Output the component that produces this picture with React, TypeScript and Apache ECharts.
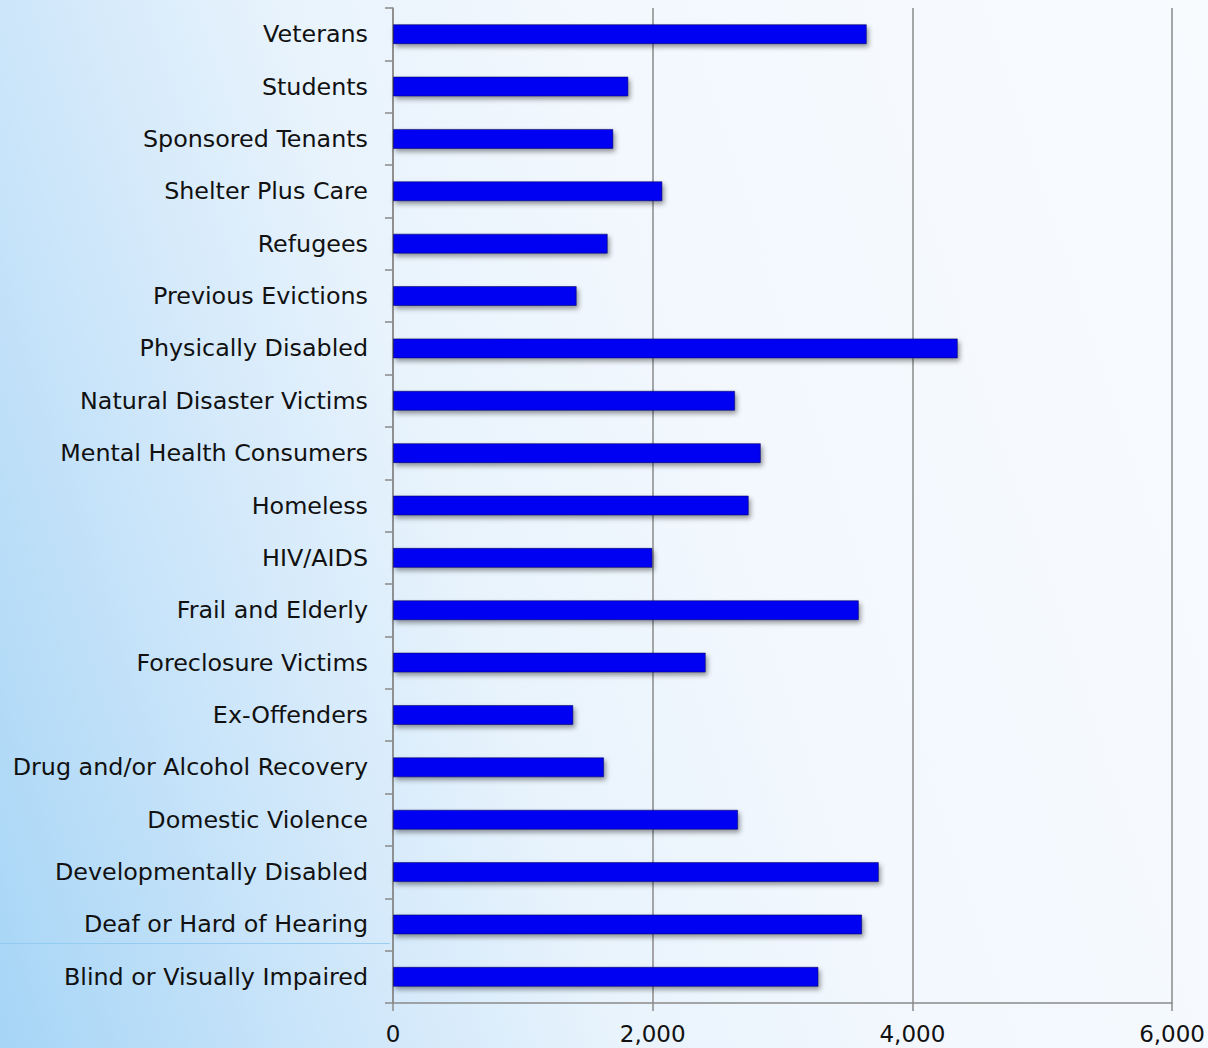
import React, { useEffect, useRef } from "react";
import * as echarts from "echarts";

const categories = [
  "Blind or Visually Impaired",
  "Deaf or Hard of Hearing",
  "Developmentally Disabled",
  "Domestic Violence",
  "Drug and/or Alcohol Recovery",
  "Ex-Offenders",
  "Foreclosure Victims",
  "Frail and Elderly",
  "HIV/AIDS",
  "Homeless",
  "Mental Health Consumers",
  "Natural Disaster Victims",
  "Physically Disabled",
  "Previous Evictions",
  "Refugees",
  "Shelter Plus Care",
  "Sponsored Tenants",
  "Students",
  "Veterans",
];

const values = [
  3277, 3613, 3742, 2658, 1626, 1389, 2409, 3588, 1998, 2740, 2833, 2635, 4350,
  1415, 1654, 2075, 1697, 1813, 3649,
];

const xTicks = [0, 2000, 4000, 6000];

export default function App() {
  const ref = useRef<HTMLDivElement>(null);

  useEffect(() => {
    document.body.style.margin = "0";
    if (!ref.current) return;
    const chart = echarts.init(ref.current, null, { renderer: "svg" });
    const font = "'DejaVu Sans', Verdana, sans-serif";
    chart.setOption({
      animation: false,
      grid: { left: 393, right: 35, top: 8, bottom: 45, containLabel: false },
      graphic: [
        {
          type: "line",
          shape: { x1: 0, y1: 943.5, x2: 390, y2: 943.5 },
          style: { stroke: "rgba(140,200,240,0.8)", lineWidth: 1 },
          silent: true,
        },
      ],
      xAxis: {
        type: "value",
        min: xTicks[0],
        max: xTicks[xTicks.length - 1],
        interval: 2000,
        axisLine: { show: true, lineStyle: { color: "#8a8a8a", width: 1.5 } },
        axisTick: { show: true, length: 8, lineStyle: { color: "#8a8a8a", width: 1.5 } },
        splitLine: { show: true, lineStyle: { color: "#8a8a8a", width: 1.5 } },
        axisLabel: {
          margin: 19,
          color: "#111",
          fontSize: 23,
          lineHeight: 24,
          fontFamily: font,
          formatter: (v: number) => v.toLocaleString("en-US"),
        },
      },
      yAxis: {
        type: "category",
        data: categories,
        axisLine: { show: true, lineStyle: { color: "#8a8a8a", width: 1.5 } },
        axisTick: { show: true, length: 8, lineStyle: { color: "#8a8a8a", width: 1.5 } },
        axisLabel: {
          margin: 25,
          color: "#111",
          fontSize: 23.8,
          fontFamily: font,
        },
        splitLine: { show: false },
      },
      series: [
        {
          type: "bar",
          data: values,
          barWidth: 20,
          itemStyle: {
            color: "#0000f2",
            borderColor: "rgba(0,0,90,0.55)",
            borderWidth: 1,
            shadowBlur: 5,
            shadowOffsetX: 2,
            shadowOffsetY: 3,
            shadowColor: "rgba(0,0,0,0.4)",
          },
        },
      ],
    });
    return () => chart.dispose();
  }, []);

  return (
    <div
      ref={ref}
      style={{
        width: 1208,
        height: 1048,
        background:
          "linear-gradient(72deg, #a6d5f6 0%, #cde6fa 22%, #e8f3fc 40%, #f3f8fe 60%, #f8fbfe 100%)",
      }}
    />
  );
}
